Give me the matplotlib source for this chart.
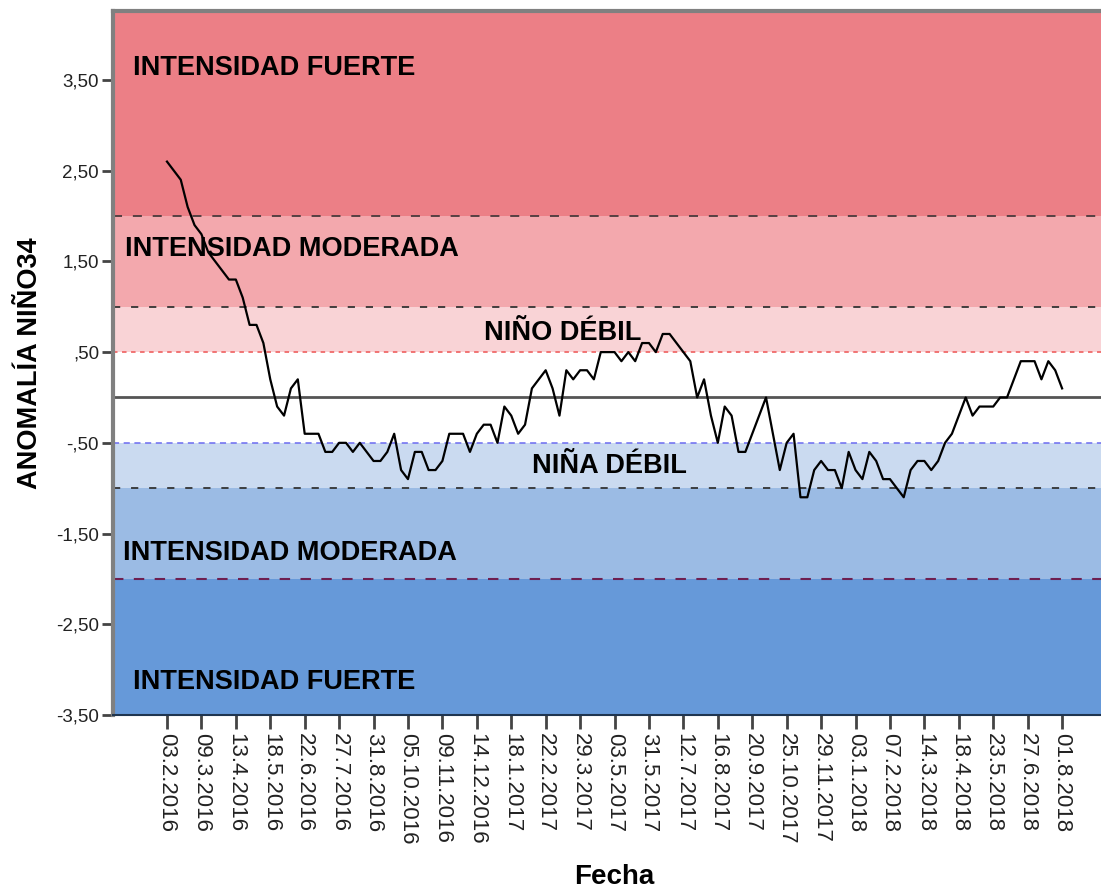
import matplotlib
matplotlib.use("Agg")
import matplotlib.pyplot as plt

plt.rcParams['font.family'] = ['Liberation Sans', 'DejaVu Sans']

# Anomalía Niño 3.4 semanal (lectura del gráfico)
anomalia = [
    2.6, 2.5, 2.4, 2.1, 1.9, 1.8, 1.6, 1.5, 1.4, 1.3,
    1.3, 1.1, 0.8, 0.8, 0.6, 0.2, -0.1, -0.2, 0.1, 0.2,
    -0.4, -0.4, -0.4, -0.6, -0.6, -0.5, -0.5, -0.6, -0.5, -0.6,
    -0.7, -0.7, -0.6, -0.4, -0.8, -0.9, -0.6, -0.6, -0.8, -0.8,
    -0.7, -0.4, -0.4, -0.4, -0.6, -0.4, -0.3, -0.3, -0.5, -0.1,
    -0.2, -0.4, -0.3, 0.1, 0.2, 0.3, 0.1, -0.2, 0.3, 0.2,
    0.3, 0.3, 0.2, 0.5, 0.5, 0.5, 0.4, 0.5, 0.4, 0.6,
    0.6, 0.5, 0.7, 0.7, 0.6, 0.5, 0.4, 0.0, 0.2, -0.2,
    -0.5, -0.1, -0.2, -0.6, -0.6, -0.4, -0.2, 0.0, -0.4, -0.8,
    -0.5, -0.4, -1.1, -1.1, -0.8, -0.7, -0.8, -0.8, -1.0, -0.6,
    -0.8, -0.9, -0.6, -0.7, -0.9, -0.9, -1.0, -1.1, -0.8, -0.7,
    -0.7, -0.8, -0.7, -0.5, -0.4, -0.2, 0.0, -0.2, -0.1, -0.1,
    -0.1, 0.0, 0.0, 0.2, 0.4, 0.4, 0.4, 0.2, 0.4, 0.3,
    0.1,
]

fechas_ticks = [
    "03.2.2016", "09.3.2016", "13.4.2016", "18.5.2016", "22.6.2016",
    "27.7.2016", "31.8.2016", "05.10.2016", "09.11.2016", "14.12.2016",
    "18.1.2017", "22.2.2017", "29.3.2017", "03.5.2017", "31.5.2017",
    "12.7.2017", "16.8.2017", "20.9.2017", "25.10.2017", "29.11.2017",
    "03.1.2018", "07.2.2018", "14.3.2018", "18.4.2018", "23.5.2018",
    "27.6.2018", "01.8.2018",
]

y_ticks = [3.5, 2.5, 1.5, 0.5, -0.5, -1.5, -2.5, -3.5]
y_tick_labels = ["3,50", "2,50", "1,50", ",50", "-,50", "-1,50", "-2,50", "-3,50"]

# bandas de intensidad
bandas = [
    (2.0, 5.0, "#ec7f86"),
    (1.0, 2.0, "#f3a8ad"),
    (0.5, 1.0, "#f9d3d6"),
    (-1.0, -0.5, "#cadaf0"),
    (-2.0, -1.0, "#9bbbe4"),
    (-4.0, -2.0, "#6699d9"),
]

fig = plt.figure(figsize=(11.01, 8.88), dpi=100)
ax = fig.add_axes([113 / 1101, 1 - 715 / 888, 1 - 113 / 1101, (715 - 11) / 888])

for lo, hi, col in bandas:
    ax.axhspan(lo, hi, color=col, lw=0, zorder=0)

# líneas de referencia
ax.axhline(2.0, color="#4a3a3c", lw=1.3, dashes=(5, 6), zorder=1)
ax.axhline(1.0, color="#333333", lw=1.3, dashes=(4, 6), zorder=1)
ax.axhline(0.5, color="#f06a6a", lw=1.3, dashes=(2.5, 2.5), zorder=1)
ax.axhline(0.0, color="#555555", lw=2.0, zorder=1)
ax.axhline(-0.5, color="#6b6bf0", lw=1.1, dashes=(4, 3), zorder=1)
ax.axhline(-1.0, color="#333333", lw=1.3, dashes=(4, 6), zorder=1)
ax.axhline(-2.0, color="#6e1f50", lw=1.5, dashes=(5, 5), zorder=1)

x = list(range(len(anomalia)))
ax.plot(x, anomalia, color="black", lw=1.6, zorder=3)

txt = dict(fontsize=19.5, fontweight="bold", color="black", va="center", zorder=4)
ax.text(-4.9, 3.63, "INTENSIDAD FUERTE", ha="left", **txt)
ax.text(-6.1, 1.64, "INTENSIDAD MODERADA", ha="left", **txt)
ax.text(57.4, 0.71, "NIÑO DÉBIL", ha="center", **txt)
ax.text(64.2, -0.755, "NIÑA DÉBIL", ha="center", **txt)
ax.text(-6.4, -1.71, "INTENSIDAD MODERADA", ha="left", **txt)
ax.text(-4.9, -3.14, "INTENSIDAD FUERTE", ha="left", **txt)

ax.set_xlim(-7.84, 135.65)
ax.set_ylim(-3.5, 4.26)

ax.set_yticks(y_ticks)
ax.set_yticklabels(y_tick_labels, fontsize=13.5, color="#222222")
ax.set_xticks(x[::5])
ax.set_xticklabels(fechas_ticks, rotation=270, fontsize=16, color="#222222")

ax.tick_params(axis="y", length=8, width=2, color="#444444", pad=2)
ax.tick_params(axis="x", length=10, width=2, color="#444444", pad=3)

for side in ["top", "left"]:
    ax.spines[side].set_color("#808080")
    ax.spines[side].set_linewidth(3)
ax.spines["bottom"].set_color("#1f3550")
ax.spines["bottom"].set_linewidth(1.5)
ax.spines["right"].set_visible(False)

fig.text(30 / 1101, 1 - 363 / 888, "ANOMALÍA NIÑO34", rotation=90, ha="center",
         va="center", fontsize=19.5, fontweight="bold")
fig.text(614 / 1101, 1 - 877 / 888, "Fecha", ha="center", va="center",
         fontsize=20, fontweight="bold")

fig.savefig("out.png", dpi=100)
